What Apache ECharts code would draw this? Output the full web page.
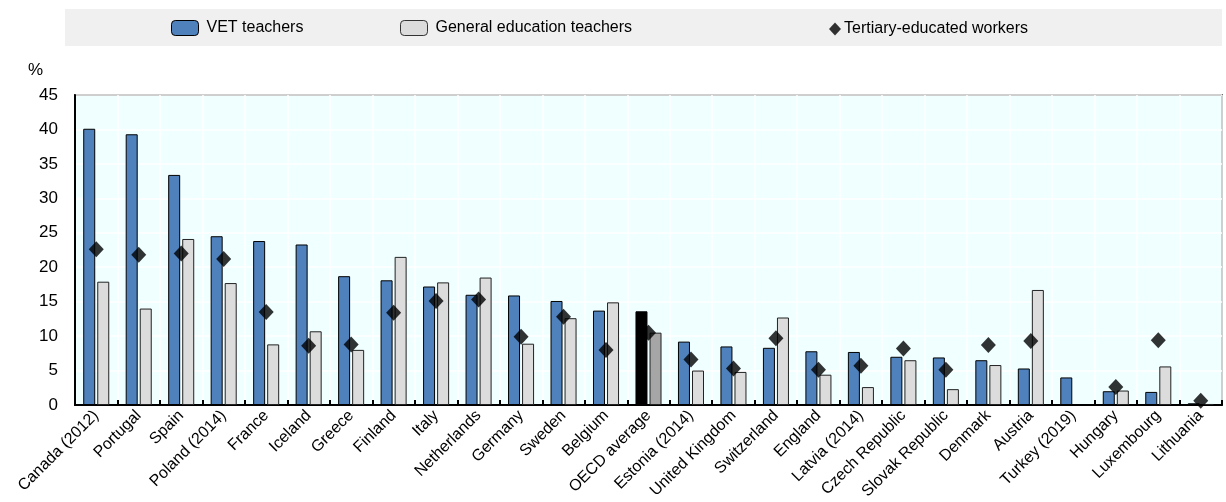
<!DOCTYPE html>
<html><head><meta charset="utf-8">
<script src="https://cdn.jsdelivr.net/npm/echarts@6/dist/echarts.min.js"></script>
<style>html,body{margin:0;padding:0;background:#fff}#c{width:1226px;height:502px}</style>
</head><body><div id="c"></div>
<script>
const categories = ["Canada (2012)","Portugal","Spain","Poland (2014)","France","Iceland","Greece","Finland","Italy","Netherlands","Germany","Sweden","Belgium","OECD average","Estonia (2014)","United Kingdom","Switzerland","England","Latvia (2014)","Czech Republic","Slovak Republic","Denmark","Austria","Turkey (2019)","Hungary","Luxembourg","Lithuania"];
const vetTeachers = [40.1,39.3,33.4,24.5,23.8,23.3,18.7,18.1,17.2,16.0,15.9,15.1,13.7,13.6,9.2,8.5,8.3,7.8,7.7,7.0,6.9,6.5,5.3,4.0,2.0,1.9,0.25];
const generalTeachers = [17.9,14.0,24.1,17.7,8.8,10.7,8.0,21.5,17.8,18.5,8.9,12.6,14.9,10.5,5.0,4.8,12.7,4.4,2.6,6.5,2.3,5.8,16.7,null,2.1,5.6,0.15];
const tertiaryWorkers = [22.6,21.8,22.0,21.2,13.5,8.6,8.8,13.4,15.1,15.3,9.9,12.8,8.0,10.5,6.6,5.3,9.7,5.1,5.7,8.2,5.1,8.7,9.3,null,2.6,9.4,0.6];
const yTicks = {min:0,max:45,interval:5};

const FONT = '"Liberation Sans Narrow","Arial Narrow","Liberation Sans",Arial,sans-serif';
const avgIdx = categories.indexOf("OECD average");
const vetData = vetTeachers.map((v,i)=> i===avgIdx ? {value:v,itemStyle:{color:'#000000'}} : v);
const genData = generalTeachers.map((v,i)=> i===avgIdx ? {value:v,itemStyle:{color:'#A6A6A6'}} : v);

const chart = echarts.init(document.getElementById('c'));
chart.setOption({
  animation:false,
  graphic:[
    {type:'rect',left:65,top:9,shape:{width:1157,height:37},style:{fill:'#F0F0F0'},z:-1},
    {type:'text',left:28,top:62,style:{text:'%',font:'17px '+FONT,fill:'#000'}}
  ],
  legend:[
    {left:171,top:20,padding:0,itemWidth:27,itemHeight:15,itemGap:8,data:['VET teachers'],textStyle:{fontFamily:FONT,fontSize:16,color:'#000',padding:[0,0,0,3]},itemStyle:{borderColor:'#000',borderWidth:1}},
    {left:400,top:20,padding:0,itemWidth:27,itemHeight:15,itemGap:8,data:['General education teachers'],textStyle:{fontFamily:FONT,fontSize:16,color:'#000',padding:[0,0,0,3]},itemStyle:{borderColor:'#333',borderWidth:1}},
    {left:829,top:21,padding:0,itemWidth:12,itemHeight:13,itemGap:4,data:['Tertiary-educated workers'],textStyle:{fontFamily:FONT,fontSize:16,color:'#000',padding:[0,0,0,-2]}}
  ],
  grid:{left:75,right:4,top:95,bottom:97,show:true,backgroundColor:'#F0FFFF',borderColor:'#000',borderWidth:1.5},
  xAxis:{
    type:'category',data:categories,boundaryGap:true,
    axisLine:{lineStyle:{color:'#000',width:2}},
    axisTick:{show:true,inside:true,length:5,interval:0,lineStyle:{color:'#000',width:2}},
    splitLine:{show:true,interval:0,lineStyle:{color:'#FFFFFF',width:1.5}},
    axisLabel:{interval:0,rotate:45,fontFamily:FONT,fontSize:16,color:'#000',margin:8}
  },
  yAxis:{
    type:'value',min:yTicks.min,max:yTicks.max,interval:yTicks.interval,
    axisLine:{show:true,lineStyle:{color:'#000',width:2}},
    axisTick:{show:false},
    splitLine:{lineStyle:{color:'#FFFFFF',width:1.5}},
    axisLabel:{fontFamily:FONT,fontSize:17,color:'#000',margin:17}
  },
  series:[
    {name:'VET teachers',type:'bar',data:vetData,barWidth:12,barGap:'17%',itemStyle:{color:'#4F81BD',borderColor:'#000',borderWidth:1}},
    {name:'General education teachers',type:'bar',data:genData,barWidth:12,itemStyle:{color:'#DCDCDC',borderColor:'#222',borderWidth:1}},
    {name:'Tertiary-educated workers',type:'scatter',data:tertiaryWorkers,symbol:'diamond',symbolSize:[15,16],itemStyle:{color:'#000'},z:5}
  ]
});
</script></body></html>
